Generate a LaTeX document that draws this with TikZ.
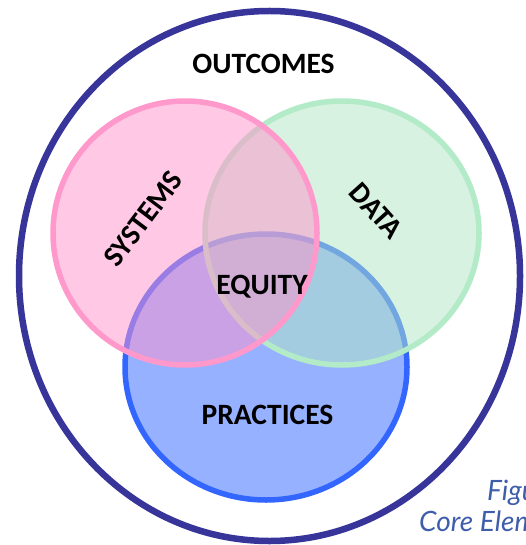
\documentclass[tikz,border=0pt]{standalone}
\usepackage{fontspec}
\setmainfont{Carlito}
\newfontfamily\capfont{Lato}
\definecolor{outerc}{RGB}{55,53,153}
\definecolor{pinkfill}{RGB}{255,147,203}
\definecolor{pinkline}{RGB}{255,153,204}
\definecolor{greenfill}{RGB}{177,231,195}
\definecolor{greenline}{RGB}{179,235,200}
\definecolor{bluefill}{RGB}{150,177,255}
\definecolor{blueline}{RGB}{51,102,255}
\definecolor{capc}{RGB}{62,94,172}
\begin{document}
\begin{tikzpicture}[x=1pt,y=-1pt,
  lbl/.style={font=\fontsize{29.5}{31}\selectfont\bfseries, inner sep=0pt, text=black},
  ring/.style={line width=5.5pt},
  captext/.style={font=\capfont\itshape\fontsize{28}{30}\selectfont, text=capc, inner sep=0pt, anchor=base west}]
\useasboundingbox (0,0) rectangle (526,545);
\clip (0,0) rectangle (526,545);
\fill[white] (0,0) rectangle (526,545);
\draw[outerc, line width=6.5pt] (269.5,276) ellipse [x radius=250.5, y radius=265];
\draw[ring, draw=blueline, fill=bluefill] (266,367) ellipse [x radius=141, y radius=133];
\draw[ring, draw=greenline, fill=greenfill, fill opacity=0.5] (342,233) ellipse [x radius=137, y radius=132];
\draw[ring, draw=pinkline, fill=pinkfill, fill opacity=0.5] (185,233) ellipse [x radius=132, y radius=132];
\node[lbl] (outcomes) at (263.5,64) {OUTCOMES};
\node[lbl, rotate=53] (systems) at (143,219) {SYSTEMS};
\node[lbl, rotate=-48] (data) at (376,211) {DATA};
\node[lbl] (equity) at (262,287) {EQUITY};
\node[lbl] (practices) at (267.5,415) {PRACTICES};
\node[captext] (fig) at (487,500) {Figure};
\node[captext] (core) at (419,531) {Core Elements};
\end{tikzpicture}
\end{document}
